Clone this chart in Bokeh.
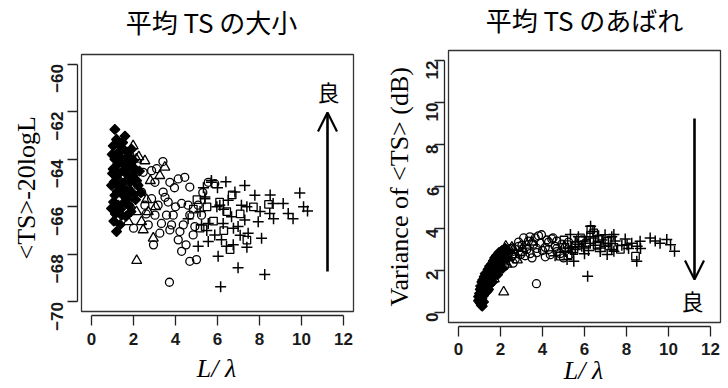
import math
from bokeh.plotting import figure
from bokeh.layouts import row, column
from bokeh.models import Label, Arrow, OpenHead, FixedTicker, Range1d, Title
from bokeh.embed import file_html
from bokeh.resources import INLINE

# ---------------- data (L/lambda, <TS>-20logL, variance of <TS>) ----------------
dia_x = [0.95, 0.95, 1.00, 1.03, 1.03, 1.05, 1.08, 1.11, 1.11, 1.11, 1.13, 1.15, 1.19, 1.19, 1.19,
         1.22, 1.25, 1.27, 1.27, 1.30, 1.33, 1.35, 1.38, 1.40, 1.43, 1.43, 1.46, 1.48, 1.51, 1.51,
         1.54, 1.57, 1.59, 1.59, 1.62, 1.65, 1.67, 1.70, 1.72, 1.75, 1.78, 1.80, 1.83, 1.86, 1.90,
         1.92, 1.95, 2.00, 2.06, 2.10, 2.15, 2.22, 2.28, 0.98, 1.06, 1.16, 1.36, 1.64, 1.88, 2.35]
dia_ts = [-65.10, -66.07, -64.60, -63.44, -64.41, -65.80, -64.95, -62.75, -64.00, -65.52, -66.30, -63.90, -63.17, -64.76, -67.04,
          -65.35, -64.20, -63.72, -65.93, -64.60, -63.40, -65.17, -66.10, -63.95, -64.14, -66.35, -65.00, -63.30, -63.58, -65.52,
          -64.45, -65.80, -63.03, -64.55, -64.00, -65.30, -65.66, -63.70, -64.85, -64.27, -65.95, -63.90, -64.97, -64.30, -63.58,
          -65.40, -64.70, -64.05, -64.41, -65.70, -64.90, -65.10, -64.50, -63.80, -66.60, -65.90, -66.75, -66.40, -66.20, -65.40]
dia_var = [0.55, 0.75, 0.90, 1.10, 0.45, 1.25, 0.35, 1.45, 0.65, 1.00, 0.30, 1.55, 1.30, 0.80, 0.50,
           1.70, 1.15, 1.85, 0.95, 1.40, 1.60, 1.25, 1.90, 2.05, 1.50, 1.10, 1.75, 2.20, 1.35, 2.00,
           1.60, 2.30, 1.85, 2.10, 1.45, 2.45, 1.70, 2.25, 2.60, 1.95, 2.40, 2.70, 2.15, 1.80, 2.50,
           2.85, 2.30, 2.65, 2.95, 2.10, 2.75, 3.05, 2.55, 0.60, 0.85, 1.20, 1.00, 2.00, 2.35, 2.90]

tri_x = [1.75, 1.83, 1.90, 1.98, 2.14, 2.14, 2.15, 2.38, 2.46, 2.54, 2.70, 2.94, 3.25, 3.49,
         1.60, 2.30, 2.62, 1.95, 2.80, 3.05, 2.25, 1.70]
tri_ts = [-66.63, -65.93, -65.38, -63.44, -64.00, -66.21, -68.26, -66.63, -66.97, -64.07, -66.21, -67.32, -64.69, -64.34,
          -65.10, -65.40, -65.70, -64.60, -64.90, -66.00, -63.90, -64.40]
tri_var = [1.85, 2.20, 2.55, 2.80, 2.70, 2.40, 0.97, 2.60, 2.95, 3.10, 2.75, 2.85, 3.20, 3.35,
           1.95, 2.30, 3.00, 2.10, 2.50, 3.05, 3.15, 1.60]

cir_x = [1.83, 2.06, 2.38, 2.46, 2.54, 2.70, 2.86, 2.86, 3.02, 3.02, 3.17, 3.25, 3.33, 3.41, 3.57,
         3.65, 3.71, 3.73, 3.73, 3.81, 3.89, 4.13, 4.13, 4.21, 4.29, 4.29, 4.37, 4.44, 4.60, 4.68,
         4.68, 4.68, 4.84, 4.92, 5.00, 5.08, 5.24, 5.56, 5.87, 2.20, 2.60, 3.10, 3.50, 3.95, 4.00,
         2.95, 4.50, 5.30, 2.00, 3.40]
cir_ts = [-63.86, -64.90, -65.38, -64.55, -65.93, -66.76, -65.66, -64.48, -64.97, -66.35, -65.93, -67.11, -66.70, -65.38, -66.35,
          -65.80, -69.17, -64.97, -66.97, -66.76, -66.35, -64.83, -67.39, -67.04, -65.86, -67.87, -66.76, -64.76, -65.93, -65.17,
          -66.35, -68.29, -67.18, -66.83, -68.22, -65.93, -66.35, -64.97, -65.03, -65.10, -66.30, -64.40, -65.60, -65.20, -66.00,
          -67.60, -67.60, -65.40, -66.90, -64.10]
cir_var = [2.60, 2.45, 2.85, 3.05, 2.70, 2.55, 3.15, 3.35, 2.90, 3.20, 2.70, 3.00, 3.40, 2.80, 3.25,
           3.55, 1.37, 3.05, 2.85, 3.65, 3.30, 3.10, 2.65, 3.45, 3.00, 3.35, 2.75, 3.50, 3.15, 2.90,
           3.40, 3.05, 2.80, 3.25, 2.60, 3.10, 3.35, 3.20, 3.45, 2.20, 2.35, 3.55, 2.60, 3.70, 2.95,
           2.75, 3.55, 2.75, 2.15, 3.60]

sq_x = [4.85, 5.02, 5.17, 5.50, 5.81, 6.10, 6.30, 6.44, 6.70, 7.08, 7.40, 7.71, 8.43, 6.60]
sq_ts = [-66.10, -65.70, -66.90, -66.00, -66.60, -65.80, -67.00, -66.20, -65.50, -66.30, -67.40, -66.00, -65.90, -67.80]
sq_var = [2.68, 3.45, 3.23, 2.95, 3.55, 3.30, 3.95, 3.79, 3.50, 3.39, 3.10, 3.00, 2.68, 3.20]

pl_x = [4.60, 5.08, 5.17, 5.24, 5.33, 5.40, 5.40, 5.49, 5.56, 5.56, 5.71, 5.71, 5.87, 5.97, 6.03,
        6.11, 6.15, 6.19, 6.27, 6.29, 6.43, 6.51, 6.67, 6.75, 6.76, 6.83, 6.98, 6.98, 7.08, 7.14,
        7.30, 7.30, 7.40, 7.40, 7.46, 7.78, 7.94, 8.03, 8.10, 8.25, 8.49, 8.51, 8.65, 8.67, 9.13,
        9.37, 9.92, 10.10, 10.29, 9.60, 6.00, 6.40]
pl_ts = [-66.50, -67.66, -66.20, -66.76, -65.20, -65.59, -65.66, -67.00, -66.70, -67.46, -64.90, -64.97, -67.18, -66.00, -68.08,
         -65.93, -69.36, -67.39, -66.70, -66.10, -67.66, -65.73, -66.42, -67.59, -66.90, -65.38, -66.83, -68.56, -67.20, -65.93,
         -65.10, -66.56, -66.00, -67.70, -67.11, -65.52, -66.63, -66.20, -67.32, -68.84, -66.28, -65.50, -65.86, -66.50, -65.86,
         -66.28, -65.42, -66.00, -66.18, -66.50, -65.20, -64.95]
pl_var = [2.70, 2.90, 2.52, 3.05, 3.71, 3.10, 2.85, 2.44, 3.35, 3.00, 3.25, 3.60, 3.15, 3.07, 3.40,
          3.60, 1.72, 2.95, 3.30, 4.11, 3.55, 3.20, 3.65, 2.90, 3.07, 3.45, 3.70, 3.15, 2.76, 3.30,
          3.60, 3.00, 3.71, 2.92, 3.40, 3.20, 3.50, 3.23, 3.05, 3.30, 2.44, 3.15, 3.39, 3.05, 3.55,
          3.40, 3.47, 3.23, 2.92, 3.30, 2.80, 3.85]

XLIM = [0, 12]
YLIM_TS = [-70, -60]
YLIM_VAR = [0, 12]
X_TICKS = [0, 2, 4, 6, 8, 10, 12]
TS_TICKS = [-70, -68, -66, -64, -62, -60]
VAR_TICKS = [0, 2, 4, 6, 8, 10, 12]

TITLE_L = "平均 TS の大小"
TITLE_R = "平均 TS のあばれ"
GOOD = "良"
XLABEL = "L/ λ"
YLABEL_L = "<TS>-20logL"
YLABEL_R = "Variance of <TS> (dB)"

SANS = "Liberation Sans"
SERIF = "Liberation Serif"
CJK = "Noto Sans CJK JP"


def rlim(lim):
    ext = 0.04 * (lim[1] - lim[0])
    return lim[0] - ext, lim[1] + ext


class Panel:
    def __init__(self, left, width, height, mbl, mbr, mbb, xlim, ylim, pads):
        # frame starts at the top of the canvas; pads = px between frame edge and R-style box
        fw = width - mbl - mbr
        fh = height - mbb
        bx0, bx1 = rlim(xlim)
        by0, by1 = rlim(ylim)
        pl, pr, pt, pb = pads
        self.sx = (fw - pl - pr) / (bx1 - bx0)
        self.sy = (fh - pt - pb) / (by1 - by0)
        self.x0 = bx0 - pl / self.sx
        self.x1 = bx1 + pr / self.sx
        self.y0 = by0 - pb / self.sy
        self.y1 = by1 + pt / self.sy
        self.fl = left + mbl
        self.ft = 0
        self.fb = fh
        self.box = (bx0, bx1, by0, by1)
        p = figure(width=width, height=height, x_range=Range1d(self.x0, self.x1),
                   y_range=Range1d(self.y0, self.y1), output_backend="svg",
                   title_location=None,
                   toolbar_location=None, min_border_left=mbl, min_border_right=mbr,
                   min_border_top=0, min_border_bottom=mbb)
        p.outline_line_color = None
        p.grid.visible = False
        p.background_fill_color = "white"
        p.border_fill_color = "white"
        self.p = p

    def px(self, X):
        return self.x0 + (X - self.fl) / self.sx

    def py(self, Y):
        return self.y1 - (Y - self.ft) / self.sy


def style_panel(pn, yticks, ylim, ylabel, ylab_bottom, ylab_standoff, xstand, xlab_stand, ystand):
    p = pn.p
    for ax, ticks, lim in ((p.xaxis[0], X_TICKS, XLIM), (p.yaxis[0], yticks, ylim)):
        ax.ticker = FixedTicker(ticks=ticks)
        ax.bounds = (lim[0], lim[1])
        ax.major_tick_out = 10
        ax.major_tick_in = 0
        ax.minor_tick_line_color = None
        ax.axis_line_color = "#222222"
        ax.axis_line_width = 1.3
        ax.major_tick_line_color = "#222222"
        ax.major_tick_line_width = 1.3
        ax.major_label_text_font = SANS
        ax.major_label_text_font_size = "17px"
        ax.major_label_text_font_style = "bold"
        ax.major_label_text_color = "#1a1a1a"
    xa, ya = p.xaxis[0], p.yaxis[0]
    xa.axis_label = XLABEL
    xa.axis_label_text_font = SERIF
    xa.axis_label_text_color = "black"
    xa.axis_label_text_font_style = "italic"
    xa.axis_label_text_font_size = "26px"
    xa.major_label_standoff = xstand
    xa.axis_label_standoff = xlab_stand
    ya.major_label_standoff = ystand
    ya.major_label_orientation = math.pi / 2
    p.add_layout(Title(text=ylabel, align="left", offset=pn.fb - ylab_bottom,
                       standoff=ylab_standoff, text_font=SERIF, text_font_size="26px",
                       text_font_style="normal", text_color="black"), "left")
    bx0, bx1, by0, by1 = pn.box
    p.quad(left=[bx0], right=[bx1], bottom=[by0], top=[by1], fill_color=None,
           line_color="#333333", line_width=1.3)


def draw_points(p, ys):
    d, t, c, s, pl = ys
    p.scatter(dia_x, d, marker="square", angle=math.pi / 4, size=7,
              fill_color="black", line_color="black", line_width=1.2)
    p.scatter(tri_x, t, marker="triangle", size=10, fill_color=None,
              line_color="black", line_width=1.3)
    p.scatter(cir_x, c, marker="circle", size=8, fill_color=None,
              line_color="black", line_width=1.3)
    p.scatter(sq_x, s, marker="square", size=7.5, fill_color=None,
              line_color="black", line_width=1.3)
    p.scatter(pl_x, pl, marker="cross", size=11, fill_color=None,
              line_color="black", line_width=1.5)


def add_notes(pn, title, title_xy, arrow, good_xy):
    p = pn.p
    p.add_layout(Label(x=pn.px(title_xy[0]), y=pn.py(title_xy[1]), text=title, text_font=CJK,
                       text_font_size="26px", text_align="center", text_baseline="middle",
                       text_color="black"))
    (ax0, ay0), (ax1, ay1) = arrow
    p.add_layout(Arrow(end=OpenHead(size=19, line_width=2.2, line_color="black"),
                       x_start=pn.px(ax0), y_start=pn.py(ay0), x_end=pn.px(ax1), y_end=pn.py(ay1),
                       line_width=2.6, line_color="black"))
    p.add_layout(Label(x=pn.px(good_xy[0]), y=pn.py(good_xy[1]), text=GOOD, text_font=CJK,
                       text_font_size="22px", text_align="center", text_baseline="middle",
                       text_color="black"))


# ---------------- left panel ----------------
L = Panel(0, 370, 388, 77, 15, 73, XLIM, YLIM_TS, (4, 2, 54, 4))
style_panel(L, TS_TICKS, YLIM_TS, YLABEL_L, 259, 4, 7, 6, 10)
draw_points(L.p, (dia_ts, tri_ts, cir_ts, sq_ts, pl_ts))
add_notes(L, TITLE_L, (211, 21), ((327, 271), (327, 112)), (328, 90))

# ---------------- right panel ----------------
R = Panel(370, 358, 388, 74, 6, 62, XLIM, YLIM_VAR, (4, 2, 50, 4))
style_panel(R, VAR_TICKS, YLIM_VAR, YLABEL_R, 306, 7, 6, -2, 2)
draw_points(R.p, (dia_var, tri_var, cir_var, sq_var, pl_var))
add_notes(R, TITLE_R, (584, 19), ((694, 118), (694, 279)), (692, 299))

layout = row(column(L.p), column(R.p))
open("out.html", "w").write(file_html(layout, INLINE))
